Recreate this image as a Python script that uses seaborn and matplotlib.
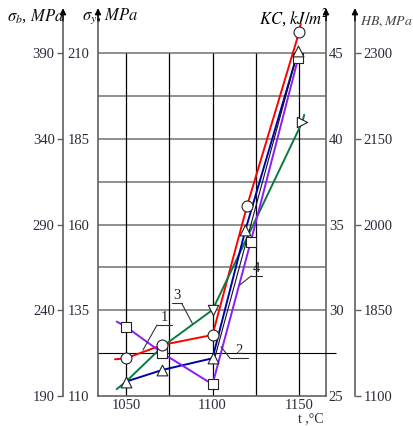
import matplotlib
matplotlib.use("Agg")
import matplotlib.pyplot as plt
import seaborn as sns
import pandas as pd

# ---------------- data (sigma_y scale, MPa) ----------------
red_t = [1043.6, 1050, 1071, 1100, 1120, 1150, 1151]
red_v = [120.7, 121.0, 124.9, 127.8, 165.5, 216.0, 218.6]
red_mark = [False, True, True, True, True, True, False]

blue_t = [1050, 1071, 1100, 1119, 1149.5]
blue_v = [114.2, 117.6, 121.0, 158.4, 210.6]
blue_mark = [True, True, True, True, True]

purple_t = [1044.6, 1050, 1071, 1100, 1122, 1149.6]
purple_v = [131.7, 130.2, 122.5, 113.4, 154.8, 208.7]
purple_mark = [False, True, True, True, True, True]

green_t = [1044.6, 1050, 1071, 1100, 1152, 1153]
green_v = [112.0, 114.2, 124.4, 135.1, 190.0, 192.0]
green_mark = [None, None, None, "v", ">", None]

black_t = [1101.5, 1148]
black_v = [121.5, 208.0]

x_ticks = [1050, 1100, 1150]
sy_ticks = [110, 135, 160, 185, 210]
sb_ticks = [190, 240, 290, 340, 390]
kc_ticks = [25, 30, 35, 40, 45]
hb_labels = ["1100", "1850", "2000", "2150", "2300"]

# ---------------- style ----------------
sns.set_theme(style="white")
plt.rcParams["font.family"] = ["Liberation Serif", "DejaVu Serif"]
plt.rcParams["mathtext.fontset"] = "stix"

W, H = 414, 426
fig = plt.figure(figsize=(W / 100, H / 100), dpi=100)
ax = fig.add_axes([98 / W, 1 - 396 / H, 228 / W, 381 / H])
ax.set_xlim(1033.8, 1165.6)
ax.set_ylim(110, 221.1)

tick_col = "#2a2a3a"
spine_col = "#606060"

# grid
ax.hlines([135, 147.5, 160, 172.5, 185, 197.5, 210], 1033.8, 1165.6,
          color="#707070", lw=1.1, zorder=1)
ax.hlines([122.5], 1033.8, 1171.5, color="black", lw=0.8, zorder=1, clip_on=False)
ax.vlines([1050, 1075, 1100, 1125, 1150], 110, 210, color="black", lw=0.9, zorder=1)

# lines
series = [
    (red_t, red_v, "#ff0000", 1.4),
    (green_t, green_v, "#0a7a40", 1.4),
    (blue_t, blue_v, "#0000a8", 1.4),
    (black_t, black_v, "#111111", 0.8),
    (purple_t, purple_v, "#8a1cff", 1.4),
]
for t, v, c, lw in series:
    df = pd.DataFrame({"t": t, "v": v})
    sns.lineplot(data=df, x="t", y="v", sort=False, estimator=None, color=c,
                 lw=lw, ax=ax, zorder=3, clip_on=False)

def marks(t, v, mask, marker, s):
    df = pd.DataFrame({"t": t, "v": v, "m": mask})
    df = df[df["m"]]
    sns.scatterplot(data=df, x="t", y="v", marker=marker, s=s, color="white",
                    edgecolor="#222222", linewidth=0.8, ax=ax, zorder=5,
                    clip_on=False, legend=False)

marks(purple_t, purple_v, purple_mark, "s", 50)
marks(blue_t, blue_v, blue_mark, "^", 60)
marks(red_t, red_v, red_mark, "o", 62)
for mk in ["v", ">"]:
    marks(green_t, green_v, [m == mk for m in green_mark], mk, 55)

# spines & ticks
ax.spines["top"].set_visible(False)
ax.spines["right"].set_visible(False)
for s in ["left", "bottom"]:
    ax.spines[s].set_color(spine_col)
    ax.spines[s].set_linewidth(1.2)
ax.set_xticks(x_ticks)
ax.set_yticks(sy_ticks)
ax.tick_params(axis="both", length=0, labelsize=10.5, colors=tick_col)
ax.tick_params(axis="y", pad=6)
ax.tick_params(axis="x", pad=2)
ax.set_xlabel("")
ax.set_ylabel("")

sec_b = ax.secondary_yaxis(-0.1535, functions=(lambda v: 190 + 2 * (v - 110),
                                                lambda s: 110 + (s - 190) / 2))
sec_b.set_yticks(sb_ticks)
sec_kc = ax.secondary_yaxis("right", functions=(lambda v: 25 + (v - 110) / 5,
                                                 lambda k: 110 + 5 * (k - 25)))
sec_kc.set_yticks(kc_ticks)
sec_hb = ax.secondary_yaxis(1.127, functions=(lambda v: v, lambda v: v))
sec_hb.set_yticks(sy_ticks, labels=hb_labels)

for sec, side, ln in [(sec_b, "left", 4), (sec_kc, "right", 0), (sec_hb, "right", 4)]:
    sec.spines[side].set_color(spine_col)
    sec.spines[side].set_linewidth(1.2)
    sec.tick_params(axis="y", direction="out", length=ln, width=1, color=spine_col,
                    labelsize=10.5, colors=tick_col, pad=2)
    for lab in sec.get_yticklabels():
        lab.set_color(tick_col)

# arrows on the top of the vertical axes
for xa in [-0.1535, 0.0, 1.0, 1.127]:
    ax.annotate("", xy=(xa, 1.018), xytext=(xa, 0.985), xycoords="axes fraction",
                arrowprops=dict(arrowstyle="-|>", color="black", lw=1.0,
                                mutation_scale=9, shrinkA=0, shrinkB=0))

# axis titles
fig.text(36 / W, 1 - 16 / H, r"$\sigma_b$, $MPa$", ha="center", va="center",
         fontsize=12, color="#111111")
fig.text(110 / W, 1 - 16 / H, r"$\sigma_y$, $MPa$", ha="center", va="center",
         fontsize=12, color="#111111")
fig.text(294 / W, 1 - 18 / H, r"$KC$, $kJ/m^2$", ha="center", va="center",
         fontsize=12, color="black")
fig.text(360 / W, 1 - 22 / H, r"$HB,MPa$", ha="left", va="center",
         fontsize=10, color="#444444")
fig.text(311 / W, 1 - 419 / H, "t ,°C", ha="center", va="center",
         fontsize=10, color=tick_col)

# curve numbers with leader lines
leaders = [
    ("1", (1067.9, 1076.6), 130.7, (1059.8, 123.4)),
    ("3", (1076.4, 1082.2), 137.0, (1088.3, 131.2)),
    ("2", (1110.1, 1120.7), 121.0, (1104.9, 124.4)),
    ("4", (1122.3, 1128.4), 145.0, (1115.9, 142.4)),
]
for lab, (x0, x1), yb, (xe, ye) in leaders:
    start = x1 if lab == "3" else x0
    ax.plot([x0, x1], [yb, yb], color="#333333", lw=0.8, zorder=4)
    ax.plot([start, xe], [yb, ye], color="#333333", lw=0.8, zorder=4)
    ax.text((x0 + x1) / 2, yb + 0.4, lab, ha="center", va="bottom",
            fontsize=10.5, color="#222222", zorder=6)

fig.savefig("out.png", dpi=100)
